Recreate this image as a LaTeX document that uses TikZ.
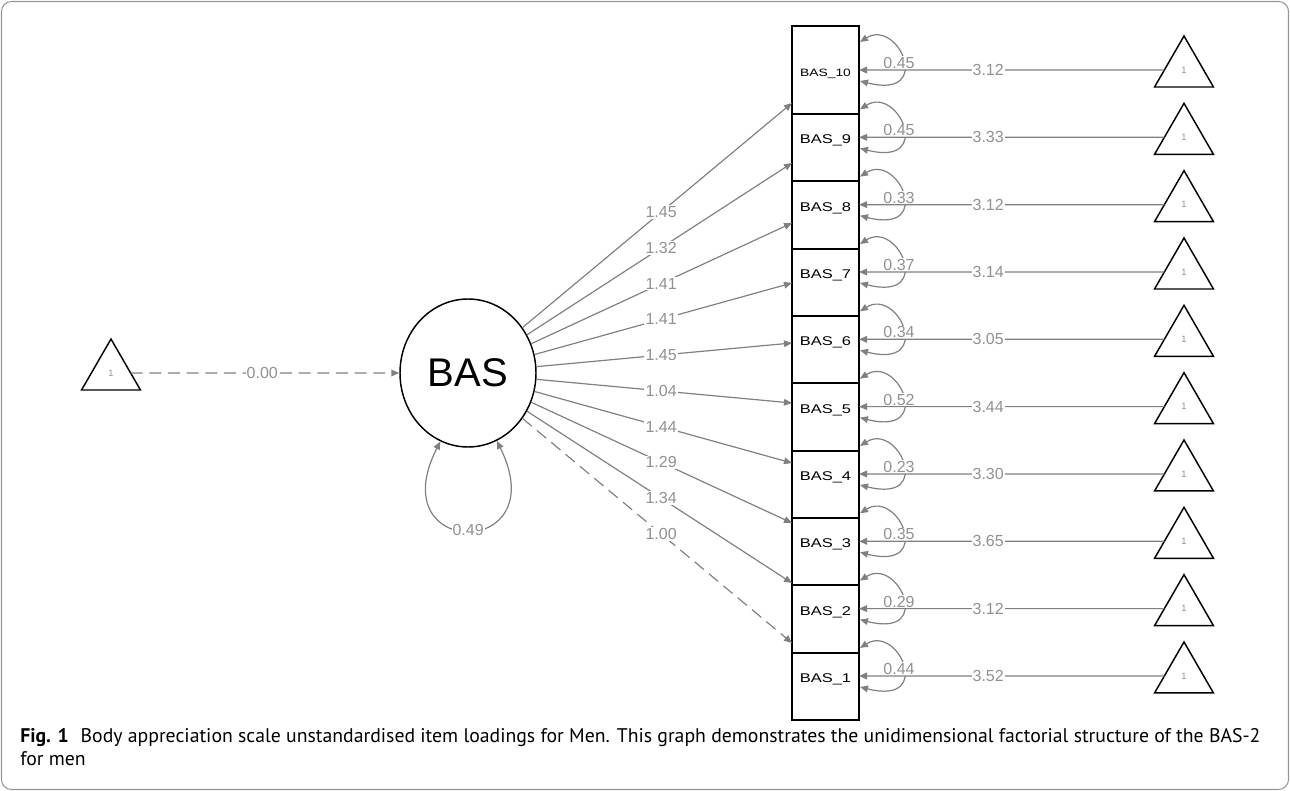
\documentclass[tikz,border=0pt]{standalone}
\usepackage{fontspec}
\usepackage{graphicx}
\setmainfont{Liberation Sans}
\newfontfamily\capfont{PT Sans}
\usetikzlibrary{arrows.meta,shapes.geometric,calc}
\definecolor{edgegray}{RGB}{128,128,128}
\definecolor{lblgray}{RGB}{145,145,145}
\definecolor{framegray}{RGB}{150,150,150}
\begin{document}
\begin{tikzpicture}[x=0.75pt,y=-0.75pt,
  edge/.style={draw=edgegray, line width=0.9pt, -{Triangle[length=6pt,width=5pt]}},
  both/.style={{Triangle[length=6pt,width=5pt]}-{Triangle[length=6pt,width=5pt]}},
  fixd/.style={dash pattern=on 9pt off 5pt},
  lbl/.style={font=\fontsize{12}{12}\selectfont, text=lblgray, fill=white, inner sep=0.8pt},
  itembox/.style={draw=black, line width=1.3pt, minimum width=50.25pt, inner sep=0pt, outer sep=0pt},
  itemlbl/.style={inner sep=0pt, anchor=base},
  meanbox/.style={regular polygon, regular polygon sides=3, draw=black, line width=1.1pt, minimum size=51pt, inner sep=0pt, outer sep=0pt, font=\fontsize{7}{7}\selectfont, text=lblgray},
  latent/.style={ellipse, draw=black, line width=1.1pt, minimum width=102pt, minimum height=111pt, inner sep=0pt, font=\fontsize{30}{30}\selectfont},
  captext/.style={anchor=base west, inner sep=0pt, font=\capfont\fontsize{14.8}{14.8}\selectfont}
]
\useasboundingbox (0,0) rectangle (1290,791);
\draw[framegray, line width=0.8pt, rounded corners=7.5pt] (1.5,1.5) rectangle (1288.5,789.5);

% latent variable
\node[latent] (bas) at (468,373) {BAS};
\node[meanbox] (m0) at (111,373) {1};
\draw[edge, fixd] (m0) -- (bas) node[lbl, pos=0.49] {0.00};
\draw[edge, both] (bas.-112) .. controls (380,560) and (556,560) .. (bas.-67) node[lbl, pos=0.5] {0.49};

% items
\foreach \i/\ld/\rs/\ic in {10/1.45/0.45/3.12, 9/1.32/0.45/3.33, 8/1.41/0.33/3.12, 7/1.41/0.37/3.14, 6/1.45/0.34/3.05, 5/1.04/0.52/3.44, 4/1.44/0.23/3.30, 3/1.29/0.35/3.65, 2/1.34/0.29/3.12, 1/1.00/0.44/3.52}{
  \pgfmathsetmacro{\cy}{70+(10-\i)*67.33}
  \pgfmathsetmacro{\ey}{103+(10-\i)*60}
  \ifnum\i=10
    \node[itembox, minimum height=66pt] (b\i) at (825.5,\cy) {};
    \def\lf{\fontsize{8}{8}\selectfont}
  \else
    \node[itembox, minimum height=50.5pt] (b\i) at (825.5,\cy+10.33) {};
    \def\lf{\fontsize{9.5}{9.5}\selectfont}
  \fi
  \ifnum\i=1 \def\ls{fixd}\else\def\ls{}\fi
  \node[itemlbl, font=\lf] (t\i) at (825.5,\cy+6.5) {\scalebox{1.3}[1]{BAS\_\i}};
  \node[meanbox] (m\i) at (1184,\cy) {1};
  \coordinate (e\i) at (792,\ey);
  \draw[edge, \ls] (bas) -- (e\i);
  \node[lbl] (l\i) at ($(bas.center)!0.596!(e\i)$) {\ld};
  \draw[edge, both] (860,\cy-28) .. controls (898,\cy-52) and (935,\cy+30) .. (860,\cy+11);
  \node[lbl] (r\i) at (899,\cy-7) {\rs};
  \draw[edge] (m\i) -- (b\i.east |- m\i) node[lbl, pos=0.577] {\ic};
}

% caption
\node[captext] (cap1) at (20,742) {\textbf{Fig. 1}\hspace{0.6em}Body appreciation scale unstandardised item loadings for Men. This graph demonstrates the unidimensional factorial structure of the BAS-2};
\node[captext] (cap2) at (20,765) {for men};
\end{tikzpicture}
\end{document}
